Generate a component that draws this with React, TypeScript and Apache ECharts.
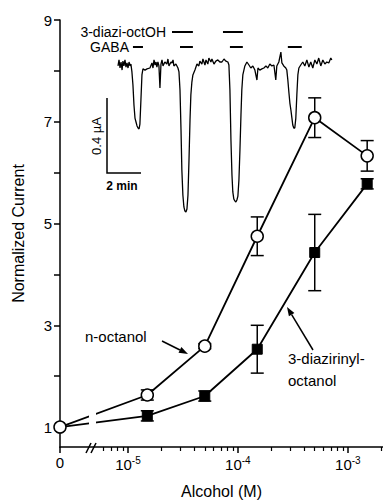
import React, { useEffect, useRef } from "react";
import * as echarts from "echarts";

// ---- Main dose-response data ----
const concentrations = [0, 1.5e-5, 5e-5, 1.5e-4, 5e-4, 1.5e-3]; // M
const octanolMean = [1, 1.63, 2.59, 4.75, 7.08, 6.33];
const octanolErr = [0, 0.1, 0.05, 0.38, 0.39, 0.3];
const diaziMean = [1, 1.22, 1.61, 2.53, 4.43, 5.78];
const diaziErr = [0, 0.1, 0.1, 0.47, 0.75, 0.1];

const yTickValues = [1, 2, 3, 4, 5, 6, 7, 8, 9];
const yLabelValues = [1, 3, 5, 7, 9];
const xMajorExponents = [-5, -4, -3];
const xMinorTicks = [
  6e-6, 7e-6, 8e-6, 9e-6,
  2e-5, 3e-5, 4e-5, 5e-5, 6e-5, 7e-5, 8e-5, 9e-5,
  2e-4, 3e-4, 4e-4, 5e-4, 6e-4, 7e-4, 8e-4, 9e-4,
  2e-3,
];

// ---- Inset current trace (time in min, current in µA) ----
const traceTime = [
  0, 0.06, 0.12, 0.18, 0.24, 0.29, 0.35, 0.41, 0.47, 0.53, 0.59, 0.65, 0.71, 0.76,
  0.82, 0.88, 0.94, 1.0, 1.06, 1.12, 1.18, 1.24, 1.29, 1.35, 1.41, 1.47, 1.59, 1.71,
  1.88, 2.0, 2.06, 2.12, 2.18, 2.24, 2.29, 2.35, 2.41, 2.47, 2.53, 2.59, 2.65, 2.76,
  2.88, 2.94, 3.0, 3.12, 3.18, 3.24, 3.29, 3.41, 3.53, 3.59, 3.65, 3.71, 3.76, 3.82,
  3.88, 3.94, 4.0, 4.06, 4.12, 4.18, 4.24, 4.29, 4.35, 4.41, 4.53, 4.65, 4.76, 4.82,
  4.94, 5.0, 5.12, 5.18, 5.29, 5.35, 5.47, 5.53, 5.65, 5.76, 5.88, 6.0, 6.12, 6.24,
  6.35, 6.47, 6.53, 6.59, 6.65, 6.71, 6.76, 6.82, 6.88, 6.94, 7.0, 7.06, 7.12, 7.18,
  7.24, 7.29, 7.35, 7.47, 7.59, 7.71, 7.82, 7.94, 8.06, 8.18, 8.24, 8.35, 8.47, 8.59,
  8.71, 8.82, 8.94, 9.06, 9.18, 9.29, 9.35, 9.47, 9.59, 9.65, 9.76, 9.88, 9.94, 10.0,
  10.06, 10.12, 10.18, 10.24, 10.29, 10.35, 10.41, 10.47, 10.53, 10.59, 10.65, 10.76,
  10.88, 11.0, 11.12, 11.24, 11.35, 11.47, 11.59, 11.71, 11.82, 11.94, 12.06, 12.18,
  12.29, 12.41, 12.53, 12.59,
];
const traceCurrent = [
  -0.005, 0.027, -0.016, 0.016, -0.027, 0.021, -0.005, 0.027, -0.011, 0.011, -0.016, 0.016, -0.005, 0.005,
  -0.037, -0.107, -0.213, -0.283, -0.304, -0.325, -0.336, -0.341, -0.315, -0.187, -0.053, -0.021, -0.027, -0.021,
  -0.016, 0.011, -0.016, 0.027, 0.0, 0.016, -0.011, 0.016, -0.005, -0.123, 0.005, 0.027, -0.005, 0.016,
  0.005, 0.032, -0.005, 0.016, 0.011, 0.027, -0.005, 0.005, -0.016, -0.037, -0.133, -0.347, -0.56, -0.693,
  -0.757, -0.779, -0.784, -0.768, -0.693, -0.507, -0.293, -0.16, -0.091, -0.053, -0.027, 0.005, -0.005, 0.021,
  0.005, 0.032, 0.0, 0.027, 0.005, 0.037, 0.016, 0.032, 0.005, 0.021, 0.027, 0.016, 0.016, 0.032,
  0.021, 0.016, 0.0, -0.133, -0.4, -0.587, -0.677, -0.715, -0.725, -0.731, -0.72, -0.699, -0.613, -0.453,
  -0.267, -0.133, -0.053, -0.005, 0.016, 0.0, -0.016, -0.005, -0.027, -0.08, -0.016, -0.027, -0.021, -0.016,
  -0.005, -0.016, 0.005, -0.005, 0.0, -0.08, -0.005, 0.016, 0.069, 0.011, -0.005, -0.016, -0.027, -0.08,
  -0.144, -0.203, -0.24, -0.283, -0.32, -0.336, -0.336, -0.283, -0.16, -0.053, -0.016, 0.0,
  0.016, -0.005, 0.027, -0.011, 0.016, -0.016, 0.027, 0.005, 0.037, -0.005, 0.027, 0.005,
  0.016, 0.011, 0.037, 0.027,
];
// stimulus bars [start, end] in min
const gabaPulses = [[0.88, 1.47], [3.65, 4.41], [6.59, 7.35], [10.0, 10.82]];
const diaziPulses = [[3.18, 4.41], [6.18, 7.35]];
const gabaLevel = 0.096;
const diaziLevel = 0.176;

const FONT = "'Liberation Sans', Arial, Helvetica, sans-serif";
const X_ZERO = -5.618; // axis position used for the "0" concentration
const X_MAX = -2.68;

const toU = (c: number) => (c === 0 ? X_ZERO : Math.log10(c));

function arrow(x1: number, y1: number, x2: number, y2: number) {
  const ang = Math.atan2(y2 - y1, x2 - x1);
  const L = 9, W = 3.2;
  const bx = x2 - L * Math.cos(ang), by = y2 - L * Math.sin(ang);
  const px = -Math.sin(ang) * W, py = Math.cos(ang) * W;
  return [
    { type: "line", z: 50, shape: { x1, y1, x2: bx, y2: by }, style: { stroke: "#000", lineWidth: 1.5 } },
    {
      type: "polygon", z: 50,
      shape: { points: [[x2, y2], [bx + px, by + py], [bx - px, by - py]] },
      style: { fill: "#000" },
    },
  ];
}

export default function App() {
  const ref = useRef<HTMLDivElement>(null);
  useEffect(() => {
    if (!ref.current) return;
    const chart = echarts.init(ref.current, undefined, { renderer: "svg" });

    const octData = concentrations.map((c, i) => [toU(c), octanolMean[i]]);
    const diaData = concentrations.map((c, i) =>
      i === 0 ? { value: [toU(c), diaziMean[i]], symbol: "none" } : [toU(c), diaziMean[i]]
    );
    const errData = [
      ...concentrations.map((c, i) => [toU(c), octanolMean[i], octanolErr[i]]),
      ...concentrations.map((c, i) => [toU(c), diaziMean[i], diaziErr[i]]),
    ].filter((d) => d[2] > 0);
    const trace = traceTime.map((t, i) => [t, traceCurrent[i]]);
    const pulses = [
      ...gabaPulses.map((p) => [p[0], p[1], gabaLevel]),
      ...diaziPulses.map((p) => [p[0], p[1], diaziLevel]),
    ];

    const axisLine = { show: true, lineStyle: { color: "#000", width: 1.5 } };

    chart.setOption({
      animation: false,
      backgroundColor: "#fff",
      textStyle: { fontFamily: FONT },
      grid: [
        { left: 60, right: 0, top: 20, bottom: 56 },
        { left: 118, width: 214, top: 27.5, height: 187.5 },
      ],
      xAxis: [
        {
          type: "value", gridIndex: 0, position: "bottom", min: X_ZERO, max: X_MAX,
          axisLine,
          axisTick: { show: true, customValues: [X_ZERO, ...xMajorExponents], length: 6, lineStyle: { color: "#000", width: 1.5 } },
          axisLabel: {
            customValues: [X_ZERO, ...xMajorExponents], margin: 8, color: "#000", fontSize: 15, fontFamily: FONT,
            formatter: (v: number) => (Math.abs(v - X_ZERO) < 1e-6 ? "0" : `{b|10}{s|${Math.round(v)}}`),
            rich: {
              b: { fontSize: 15, color: "#000", fontFamily: FONT },
              s: { fontSize: 10, color: "#000", fontFamily: FONT, verticalAlign: "bottom", padding: [0, 0, 9, 0] },
            },
          },
          splitLine: { show: false },
          name: "Alcohol (M)", nameLocation: "middle", nameGap: 36,
          nameTextStyle: { fontSize: 16, color: "#000", fontFamily: FONT },
        },
        {
          type: "value", gridIndex: 0, position: "bottom", min: X_ZERO, max: X_MAX,
          axisLine: { show: false },
          axisTick: { show: true, customValues: xMinorTicks.map(Math.log10), length: 4, lineStyle: { color: "#000", width: 1.2 } },
          axisLabel: { show: false },
          splitLine: { show: false },
        },
        { type: "value", gridIndex: 1, min: 0, max: 12.6, show: false },
      ],
      yAxis: [
        {
          type: "value", gridIndex: 0, min: 0.608, max: 9,
          axisLine,
          axisTick: { show: true, customValues: yTickValues, length: 6, lineStyle: { color: "#000", width: 1.5 } },
          axisLabel: { customValues: yLabelValues, margin: 8, color: "#000", fontSize: 15, fontFamily: FONT },
          splitLine: { show: false },
          name: "Normalized Current", nameLocation: "middle", nameGap: 34, nameRotate: 90,
          nameTextStyle: { fontSize: 16, color: "#000", fontFamily: FONT },
        },
        { type: "value", gridIndex: 1, min: -0.8, max: 0.2, show: false },
      ],
      series: [
        {
          type: "custom", name: "err", xAxisIndex: 0, yAxisIndex: 0, z: 3,
          data: errData,
          encode: { x: 0, y: 1 },
          renderItem: (_p: any, api: any) => {
            const x = api.value(0), y = api.value(1), e = api.value(2);
            const top = api.coord([x, y + e]);
            const bot = api.coord([x, y - e]);
            const w = 6.5;
            const st = { stroke: "#000", lineWidth: 1.5 };
            return {
              type: "group",
              children: [
                { type: "line", shape: { x1: top[0], y1: top[1], x2: bot[0], y2: bot[1] }, style: st },
                { type: "line", shape: { x1: top[0] - w, y1: top[1], x2: top[0] + w, y2: top[1] }, style: st },
                { type: "line", shape: { x1: bot[0] - w, y1: bot[1], x2: bot[0] + w, y2: bot[1] }, style: st },
              ],
            };
          },
        },
        {
          type: "line", name: "3-diazirinyl-octanol", xAxisIndex: 0, yAxisIndex: 0, z: 4,
          data: diaData, symbol: "rect", symbolSize: 10,
          lineStyle: { color: "#000", width: 1.8 },
          itemStyle: { color: "#000", borderColor: "#000", borderWidth: 1 },
        },
        {
          type: "line", name: "n-octanol", xAxisIndex: 0, yAxisIndex: 0, z: 5,
          data: octData, symbol: "circle", symbolSize: 12,
          lineStyle: { color: "#000", width: 1.8 },
          itemStyle: { color: "#fff", borderColor: "#000", borderWidth: 1.5 },
        },
        {
          type: "line", name: "trace", xAxisIndex: 2, yAxisIndex: 1, z: 3,
          data: trace, symbol: "none",
          lineStyle: { color: "#000", width: 1.3 },
        },
        {
          type: "custom", name: "pulses", xAxisIndex: 2, yAxisIndex: 1, z: 3,
          data: pulses,
          encode: { x: [0, 1], y: 2 },
          renderItem: (_p: any, api: any) => {
            const a = api.coord([api.value(0), api.value(2)]);
            const b = api.coord([api.value(1), api.value(2)]);
            return {
              type: "line",
              shape: { x1: a[0], y1: a[1], x2: b[0], y2: b[1] },
              style: { stroke: "#000", lineWidth: 2 },
            };
          },
        },
      ],
      graphic: [
        // gap in the connecting lines at the axis break
        { type: "rect", z: 100, shape: { x: 89, y: 398, width: 7, height: 38 }, style: { fill: "#fff" } },
        // axis break marks
        { type: "line", z: 100, shape: { x1: 86, y1: 453, x2: 91, y2: 443 }, style: { stroke: "#000", lineWidth: 1.5 } },
        { type: "line", z: 100, shape: { x1: 91, y1: 453, x2: 96, y2: 443 }, style: { stroke: "#000", lineWidth: 1.5 } },
        // annotations
        { type: "text", z: 100, x: 85, y: 336, style: { text: "n-octanol", font: `15px ${FONT}`, fill: "#000", verticalAlign: "middle" } },
        ...arrow(162, 341, 188, 354),
        { type: "text", z: 100, x: 288, y: 358, style: { text: "3-diazirinyl-", font: `15px ${FONT}`, fill: "#000", verticalAlign: "middle" } },
        { type: "text", z: 100, x: 288, y: 380, style: { text: "octanol", font: `15px ${FONT}`, fill: "#000", verticalAlign: "middle" } },
        ...arrow(313, 350, 287, 307),
        // inset labels
        { type: "text", z: 100, x: 166, y: 32, style: { text: "3-diazi-octOH", font: `14px ${FONT}`, fill: "#000", align: "right", verticalAlign: "middle" } },
        { type: "text", z: 100, x: 129, y: 47, style: { text: "GABA", font: `14px ${FONT}`, fill: "#000", align: "right", verticalAlign: "middle" } },
        // scale bar
        { type: "polyline", z: 100, shape: { points: [[107, 98], [107, 173], [141, 173]] }, style: { stroke: "#000", lineWidth: 1.5, fill: "none" } },
        { type: "text", z: 100, x: 96, y: 136, rotation: Math.PI / 2, style: { text: "0.4 µA", font: `13px ${FONT}`, fill: "#000", align: "center", verticalAlign: "middle" } },
        { type: "text", z: 100, x: 122, y: 186, style: { text: "2 min", font: `bold 12px ${FONT}`, fill: "#000", align: "center", verticalAlign: "middle" } },
      ],
    });
    return () => chart.dispose();
  }, []);
  return <div ref={ref} style={{ position: "fixed", left: 0, top: 0, width: 383, height: 504 }} />;
}
